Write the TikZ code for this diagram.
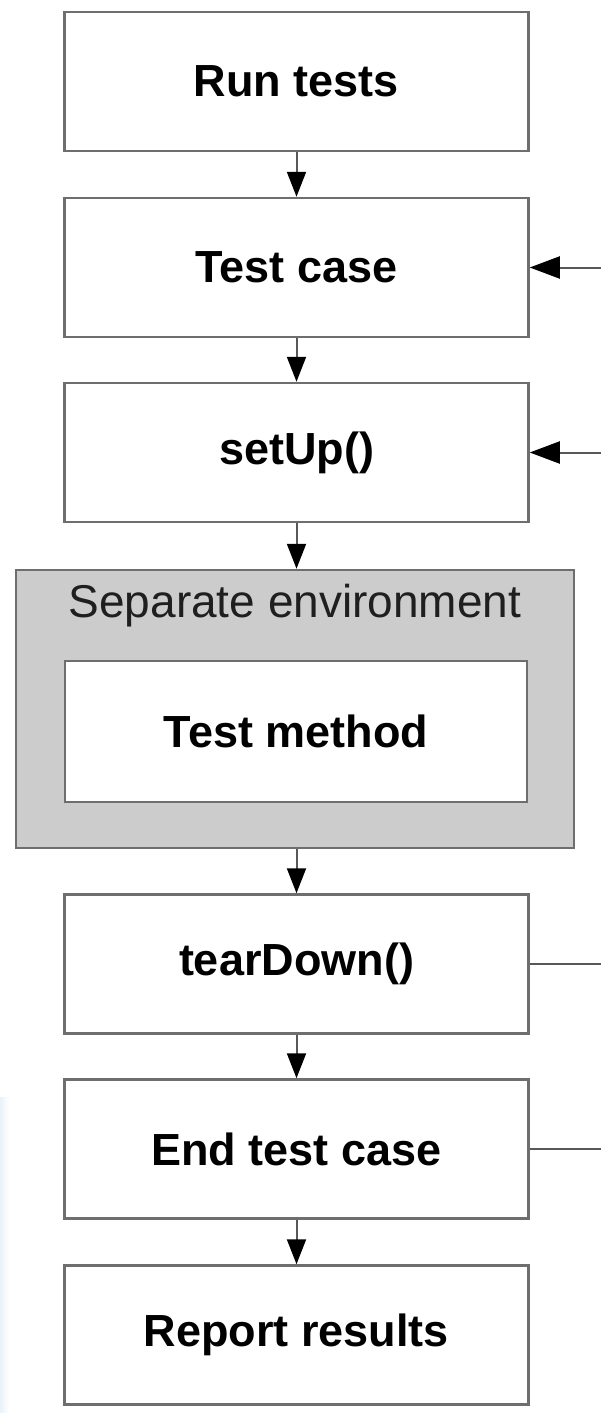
\documentclass[tikz,border=0pt]{standalone}
\usepackage{fontspec}
\setmainfont{Liberation Sans}
\usetikzlibrary{arrows.meta}
\definecolor{edge}{HTML}{6E6E6E}
\definecolor{grpfill}{HTML}{CCCCCC}
\definecolor{tint}{HTML}{EAF1FA}
\tikzset{
  stepbox/.style={draw=edge, line width=2.5pt, fill=white, minimum width=464pt, minimum height=139pt, inner sep=0pt,
    font=\fontsize{45}{54}\selectfont\bfseries, text=black},
  grpbox/.style={draw=edge, line width=2.5pt, fill=grpfill, minimum width=558pt, minimum height=278pt, inner sep=0pt},
  varr/.style={draw=edge!80!black, line width=2pt, -{Triangle[length=25pt,width=19pt,fill=black,color=black]}},
  harr/.style={draw=edge!80!black, line width=2pt, -{Triangle[length=30pt,width=22pt,fill=black,color=black]}},
  plain/.style={draw=edge!80!black, line width=2pt}
}
\begin{document}
\begin{tikzpicture}[x=1pt,y=-1pt]
\useasboundingbox (0,0) rectangle (601,1413);
\fill[left color=tint, right color=white] (0,1097) rectangle (9,1413);
\node[stepbox] (b1) at (296.5,81.5) {Run tests};
\node[stepbox] (b2) at (296.5,267.5) {Test case};
\node[stepbox] (b3) at (296.5,452.5) {setUp()};
\node[grpbox] (grp) at (295,709) {};
\node[font=\fontsize{46}{55}\selectfont, text=black!88] (glabel) at (295,606) {Separate environment};
\node[stepbox, minimum width=462pt, minimum height=141pt] (b4) at (296,731.5) {Test method};
\node[stepbox] (b5) at (296.5,964) {tearDown()};
\node[stepbox] (b6) at (296.5,1149) {End test case};
\node[stepbox] (b7) at (296.5,1335) {Report results};
\coordinate (r2) at (601,267.5);
\coordinate (r3) at (601,452.5);
\coordinate (r5) at (601,964);
\coordinate (r6) at (601,1149);
\draw[varr] (b1.south) -- (b2.north);
\draw[varr] (b2.south) -- (b3.north);
\draw[varr] (b3.south) -- (b3.south |- grp.north);
\draw[varr] (b5.north |- grp.south) -- (b5.north);
\draw[varr] (b5.south) -- (b6.north);
\draw[varr] (b6.south) -- (b7.north);
\draw[harr] (r2) -- (b2.east);
\draw[harr] (r3) -- (b3.east);
\draw[plain] (b5.east) -- (r5);
\draw[plain] (b6.east) -- (r6);
\end{tikzpicture}
\end{document}
